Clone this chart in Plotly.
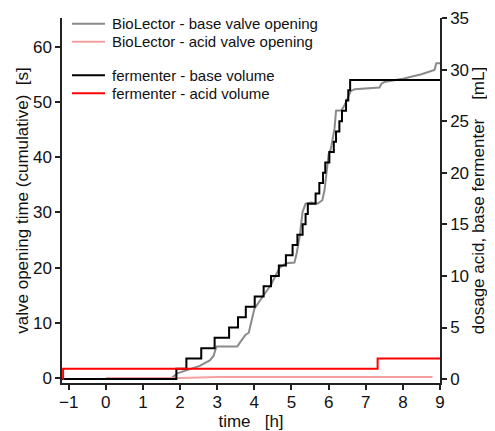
import plotly.graph_objects as go

# BioLector - base valve opening (cumulative valve opening time, s)
bio_base_t = [0.0, 1.77, 1.94, 2.17, 2.53, 2.80, 2.90, 2.98, 3.54, 3.62, 3.76, 3.85, 4.00, 4.23, 4.45,
              4.68, 4.86, 5.08, 5.14, 5.22, 5.26, 5.30, 5.38, 5.53, 5.71, 5.83, 5.89, 5.95, 6.00,
              6.06, 6.16, 6.20, 6.35, 6.42, 6.50, 6.60, 6.70, 7.37, 7.42, 7.50, 8.00, 8.50, 8.85,
              8.90, 9.00]
bio_base_s = [0.0, 0.0, 0.9, 1.4, 2.2, 3.2, 4.0, 5.7, 5.7, 6.5, 7.8, 8.2, 12.5, 14.8, 16.9,
              20.0, 20.8, 20.9, 22.6, 25.6, 28.0, 30.1, 31.6, 31.8, 31.6, 32.2, 34.0, 37.0, 40.5,
              41.5, 45.2, 48.4, 48.5, 49.3, 50.5, 52.0, 52.3, 52.6, 53.3, 53.6, 54.2, 55.0, 55.8,
              57.0, 57.0]

# BioLector - acid valve opening (s)
bio_acid_t = [0.0, 2.0, 3.0, 8.8]
bio_acid_s = [0.0, 0.0, 0.2, 0.2]

# fermenter - base volume (mL), step times
ferm_base_t = [-1.18, 1.90, 2.17, 2.57, 2.93, 3.32, 3.56, 3.77, 4.01, 4.25, 4.45, 4.66, 4.85,
               5.03, 5.16, 5.30, 5.38, 5.44, 5.65, 5.75, 5.85, 5.91, 6.02, 6.14, 6.20, 6.29,
               6.36, 6.47, 6.53, 6.58, 9.0]
ferm_base_ml = [0, 1, 2, 3, 4, 5, 6, 7, 8, 9, 10, 11, 12, 13, 14, 15, 16, 17, 18, 19, 20, 21,
                22, 23, 24, 25, 26, 27, 28, 29, 29]

# fermenter - acid volume (mL)
ferm_acid_t = [-1.16, -1.15, 7.32, 9.0]
ferm_acid_ml = [0, 1, 2, 2]

x_ticks = list(range(-1, 10))
y_left_ticks = list(range(0, 61, 10))
y_right_ticks = list(range(0, 36, 5))

series_names = ["BioLector - base valve opening", "BioLector - acid valve opening",
                "fermenter - base volume", "fermenter - acid volume"]
series_colors = ["#8a8a8a", "#f4a0a0", "#000000", "#ff0000"]

FONT = "Liberation Sans, Arial, sans-serif"

# page body has an 8px default margin, so the figure is sized to fill the rest of the window
W, H = 487, 423
ML, MR, MT, MB = 54, 55, 10, 48
PW, PH = W - ML - MR, H - MT - MB

fig = go.Figure()
fig.add_trace(go.Scatter(x=bio_base_t, y=bio_base_s, mode="lines", name=series_names[0],
                         line=dict(color=series_colors[0], width=2)))
fig.add_trace(go.Scatter(x=bio_acid_t, y=bio_acid_s, mode="lines", name=series_names[1],
                         line=dict(color=series_colors[1], width=2)))
fig.add_trace(go.Scatter(x=ferm_base_t, y=ferm_base_ml, mode="lines", line_shape="hv",
                         name=series_names[2], yaxis="y2",
                         line=dict(color=series_colors[2], width=2)))
fig.add_trace(go.Scatter(x=ferm_acid_t, y=ferm_acid_ml, mode="lines", line_shape="hv",
                         name=series_names[3], yaxis="y2",
                         line=dict(color=series_colors[3], width=2)))

# hand-placed legend (rows with an extra gap between the two groups)
legend_rows_px = [15.7, 33.7, 67.3, 85.3]
for name, color, ry in zip(series_names, series_colors, legend_rows_px):
    py = 1 - (ry - MT) / PH
    fig.add_shape(type="line", xref="paper", yref="paper",
                  x0=(64 - ML) / PW, x1=(97 - ML) / PW, y0=py, y1=py,
                  line=dict(color=color, width=2))
    fig.add_annotation(text=name, xref="paper", yref="paper", x=(102 - ML) / PW, y=py,
                       xanchor="left", yanchor="middle", showarrow=False,
                       font=dict(family=FONT, size=15, color="#111"))

axis_common = dict(showline=True, linecolor="#222", linewidth=1.5, ticks="outside",
                   ticklen=5, tickcolor="#222", tickwidth=1.5, showgrid=False, zeroline=False,
                   automargin=False,
                   tickfont=dict(family=FONT, size=17, color="#111"))

fig.update_layout(
    width=W, height=H,
    margin=dict(l=ML, r=MR, t=MT, b=MB),
    plot_bgcolor="white", paper_bgcolor="white",
    font=dict(family=FONT, color="#111"),
    showlegend=False,
    xaxis=dict(range=[-1.18, 9.0], tickvals=x_ticks, ticklabelstandoff=-2,
               title=dict(text="time\u00a0\u00a0\u00a0[h]", font=dict(family=FONT, size=17)),
               **axis_common),
    yaxis=dict(range=[-0.9, 65.2], tickvals=y_left_ticks,
               title=dict(text="valve opening time (cumulative)\u00a0\u00a0[s]",
                          font=dict(family=FONT, size=17), standoff=0),
               **axis_common),
    yaxis2=dict(range=[-0.38, 35.0], tickvals=y_right_ticks, overlaying="y", side="right",
                title=dict(text="dosage acid, base fermenter\u00a0\u00a0\u00a0\u00a0[mL]",
                           font=dict(family=FONT, size=17), standoff=2),
                **axis_common),
)

fig.write_html("out.html")
